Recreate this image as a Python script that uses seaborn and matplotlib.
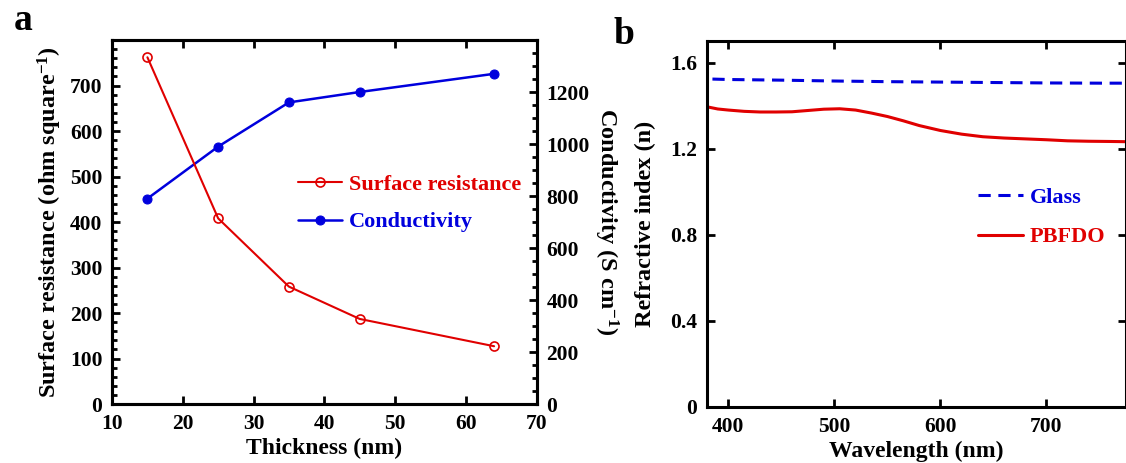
import numpy as np
import pandas as pd
import matplotlib
matplotlib.use("Agg")
import matplotlib.pyplot as plt
from matplotlib.ticker import MultipleLocator
import seaborn as sns

# panel a data
thickness = [15, 25, 35, 45, 64]
surface_res = [762, 408, 258, 187, 127]
conductivity = [790, 990, 1160, 1200, 1270]

# panel b data
wl_glass = [385, 400, 450, 500, 550, 600, 650, 700, 750, 775]
n_glass = [1.524, 1.522, 1.519, 1.515, 1.512, 1.510, 1.508, 1.506, 1.505, 1.505]
wl_pbfdo = [380, 390, 400, 415, 430, 445, 460, 475, 490, 505, 520, 535, 550, 565,
            580, 600, 620, 640, 660, 680, 700, 720, 740, 760, 775]
n_pbfdo = [1.395, 1.385, 1.38, 1.374, 1.371, 1.371, 1.372, 1.378, 1.384, 1.386, 1.380,
           1.366, 1.350, 1.330, 1.308, 1.285, 1.268, 1.256, 1.250, 1.246, 1.242, 1.237,
           1.235, 1.234, 1.233]

sns.set_theme(style="ticks")
plt.rcParams["font.family"] = ["Liberation Serif", "DejaVu Serif"]
plt.rcParams["font.weight"] = "bold"
plt.rcParams["axes.labelweight"] = "bold"
plt.rcParams["text.color"] = "black"
plt.rcParams["axes.labelcolor"] = "black"
plt.rcParams["xtick.color"] = "black"
plt.rcParams["ytick.color"] = "black"
plt.rcParams["mathtext.fontset"] = "custom"
plt.rcParams["mathtext.rm"] = "Liberation Serif:bold"
plt.rcParams["mathtext.it"] = "Liberation Serif:bold"
plt.rcParams["mathtext.bf"] = "Liberation Serif:bold"
plt.rcParams["mathtext.default"] = "rm"

RED = "#e00000"
BLUE = "#0000dd"

fig = plt.figure(figsize=(11.26, 4.63), dpi=100)
ax1 = fig.add_axes([0.0995, 0.1274, 0.377, 0.7862])
ax2 = ax1.twinx()
axb = fig.add_axes([0.628, 0.121, 0.372, 0.790])

def style_axes(ax, lw=2.2):
    for s in ax.spines.values():
        s.set_linewidth(lw)
        s.set_color("black")
    ax.tick_params(which="major", direction="in", length=6, width=2, labelsize=15.5,
                   labelcolor="black", pad=7)
    ax.tick_params(which="minor", direction="in", length=3.5, width=2)
    for lab in ax.get_xticklabels() + ax.get_yticklabels():
        lab.set_fontweight("bold")

df_a = pd.DataFrame({"t": thickness, "r": surface_res, "c": conductivity})
sns.lineplot(data=df_a, x="t", y="r", ax=ax1, color=RED, lw=1.5, marker="o",
             markersize=6.5, markerfacecolor="none", markeredgecolor=RED,
             markeredgewidth=1.2, label="Surface resistance", legend=False)
sns.lineplot(data=df_a, x="t", y="c", ax=ax2, color=BLUE, lw=1.8, marker="o",
             markersize=6.5, markerfacecolor=BLUE, markeredgecolor=BLUE,
             label="Conductivity", legend=False)

ax1.set_xlim(10, 70)
ax1.set_ylim(0, 800)
ax2.set_ylim(0, 1400)
ax1.set_xticks(np.arange(10, 71, 10))
ax1.set_yticks(np.arange(0, 701, 100))
ax1.yaxis.set_minor_locator(MultipleLocator(20))
ax2.set_yticks(np.arange(0, 1201, 200))
ax2.yaxis.set_minor_locator(MultipleLocator(50))
ax1.tick_params(top=True, labeltop=False)
style_axes(ax1)
style_axes(ax2)
ax1.tick_params(axis="x", pad=7)
ax2.tick_params(which="both", right=True, left=False)
ax1.tick_params(which="both", right=False)
ax1.set_xlabel("Thickness (nm)", fontsize=17, fontweight="bold", labelpad=3)
ax1.set_ylabel("Surface resistance (ohm square$^{-1}$)", fontsize=17.5, fontweight="bold", labelpad=4)
ax2.set_ylabel("Conductivity (S cm$^{-1}$)", fontsize=17.5, fontweight="bold", rotation=270, labelpad=22)
ax1.set_zorder(ax2.get_zorder() + 1)
ax1.patch.set_visible(False)

h1, l1 = ax1.get_legend_handles_labels()
h2, l2 = ax2.get_legend_handles_labels()
leg = ax1.legend(h1 + h2, l1 + l2, loc="upper left", bbox_to_anchor=(0.39, 0.685),
                 frameon=False, fontsize=16, handlelength=2.0, handletextpad=0.3,
                 labelspacing=0.75, labelcolor="linecolor")
for t in leg.get_texts():
    t.set_fontweight("bold")

# panel b
df_g = pd.DataFrame({"w": wl_glass, "n": n_glass})
df_p = pd.DataFrame({"w": wl_pbfdo, "n": n_pbfdo})
sns.lineplot(data=df_g, x="w", y="n", ax=axb, color=BLUE, lw=2.2, ls=(0, (4, 2.5)), label="Glass")
sns.lineplot(data=df_p, x="w", y="n", ax=axb, color=RED, lw=2.2, label="PBFDO")
axb.set_xlim(380, 775)
axb.set_ylim(0, 1.7)
axb.set_xticks([400, 500, 600, 700])
axb.set_yticks([0, 0.4, 0.8, 1.2, 1.6])
axb.set_yticklabels(["0", "0.4", "0.8", "1.2", "1.6"])
axb.tick_params(top=True, right=True)
style_axes(axb)
axb.tick_params(axis="x", pad=7)
axb.set_xlabel("Wavelength (nm)", fontsize=17, fontweight="bold", labelpad=3)
axb.set_ylabel("Refractive index (n)", fontsize=17.5, fontweight="bold", labelpad=10)
legb = axb.legend(loc="upper left", bbox_to_anchor=(0.6, 0.655), frameon=False, fontsize=16,
                  handlelength=2.0, handletextpad=0.3, labelspacing=0.85, labelcolor="linecolor")
for t in legb.get_texts():
    t.set_fontweight("bold")

fig.text(0.012, 0.935, "a", fontsize=27, fontweight="bold")
fig.text(0.545, 0.905, "b", fontsize=27, fontweight="bold")

fig.savefig("out.png", dpi=100)
